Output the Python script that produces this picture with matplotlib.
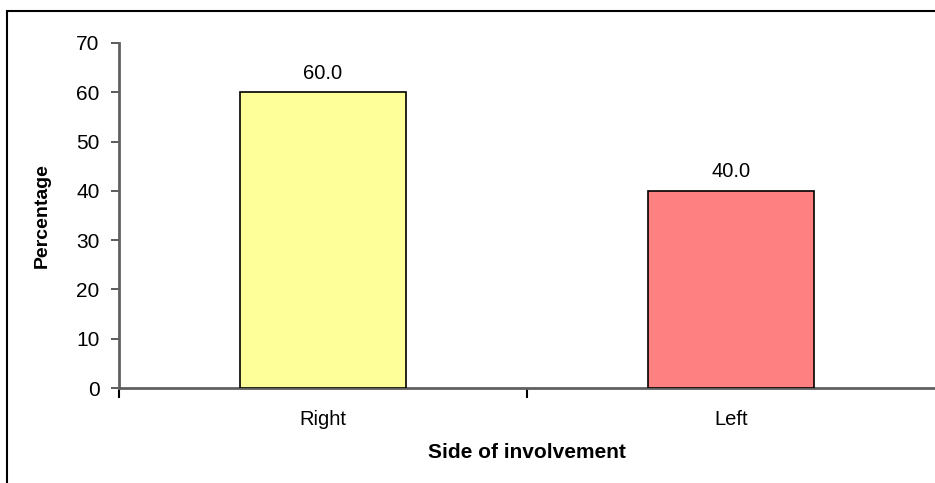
import matplotlib.pyplot as plt
from matplotlib.patches import Rectangle

plt.rcParams['font.family'] = ['Liberation Sans', 'DejaVu Sans']

sides = ['Right', 'Left']
percentages = [60.0, 40.0]
bar_colors = ['#FFFF99', '#FF8080']
yticks = [0, 10, 20, 30, 40, 50, 60, 70]

fig = plt.figure(figsize=(9.35, 4.83), dpi=100)
ax = fig.add_axes([119 / 935, 1 - 388 / 483, 1 - 119 / 935, (388 - 43) / 483])

x = list(range(len(sides)))
bars = ax.bar(x, percentages, width=0.405, color=bar_colors,
              edgecolor='black', linewidth=1.2, zorder=3)
for b, v in zip(bars, percentages):
    ax.annotate(f'{v:.1f}', (b.get_x() + b.get_width() / 2, v),
                xytext=(0, 7), textcoords='offset points',
                ha='center', va='bottom', fontsize=14.5)

ax.set_xlim(-0.5, len(sides) - 0.5)
ax.set_ylim(0, 70)
ax.set_yticks(yticks)
ax.set_xticks(x)
ax.set_xticklabels(sides)
# category separators (the last one falls on the cropped edge)
ax.set_xticks([i - 0.5 for i in range(len(sides))], minor=True)
ax.tick_params(axis='x', which='major', length=0, pad=16, labelsize=14.5)
ax.tick_params(axis='x', which='minor', length=7, width=1.5, color='black', direction='out')
ax.tick_params(axis='y', length=6, width=1.2, color='#404040', labelsize=15, pad=8)

for s in ['top', 'right']:
    ax.spines[s].set_visible(False)
for s in ['left', 'bottom']:
    ax.spines[s].set_color('#606060')
    ax.spines[s].set_linewidth(2)

ax.set_xlabel('Side of involvement', fontsize=15, fontweight='bold')
ax.set_ylabel('Percentage', fontsize=14, fontweight='bold')
ax.xaxis.set_label_coords(0.5, (388 - 453) / 345, transform=ax.transAxes)
ax.yaxis.set_label_coords((42 - 119) / 816, 0.5, transform=ax.transAxes)
ax.xaxis.label.set_va('center')
ax.yaxis.label.set_va('center')

# figure frame (cropped at right and bottom in the original)
fig.patches.append(Rectangle((7 / 935, -0.1), 1.2, 1 - 11 / 483 + 0.1,
                             transform=fig.transFigure, fill=False,
                             edgecolor='black', linewidth=1.5))

fig.savefig('out.png', dpi=100)
